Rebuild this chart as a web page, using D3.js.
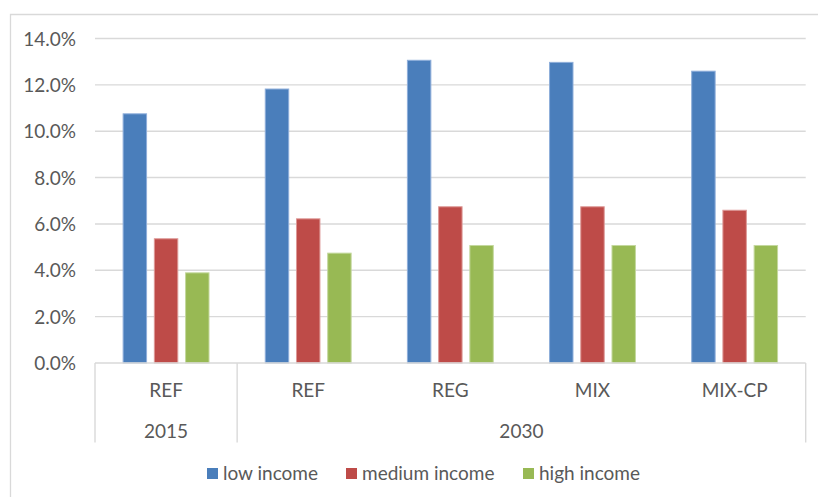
<!DOCTYPE html>
<html>
<head>
<meta charset="utf-8">
<script src="https://cdn.jsdelivr.net/npm/d3@7"></script>
<style>
html,body{margin:0;padding:0;background:#fff;}
svg{display:block;}
text{font-family:Lato,"Open Sans",sans-serif;fill:#595959;}
</style>
</head>
<body>
<svg id="chart" width="818" height="497"></svg>
<script>
const scenarios = ["REF", "REF", "REG", "MIX", "MIX-CP"];
const years = ["2015", "2030"];
const yearSpans = [1, 4];
const series = ["low income", "medium income", "high income"];
const lowIncome = [0.1075, 0.1182, 0.1306, 0.1297, 0.1259];
const mediumIncome = [0.0536, 0.0622, 0.0674, 0.0674, 0.0659];
const highIncome = [0.0389, 0.0474, 0.0507, 0.0507, 0.0507];
const yTicks = [0, 0.02, 0.04, 0.06, 0.08, 0.10, 0.12, 0.14];
const colors = ["#4A7EBB", "#BE4B48", "#98B954"];
const strokes = ["#8EAEDA", "#DD9896", "#C4D89E"];

(function () {
const values = [lowIncome, mediumIncome, highIncome];
const svg = d3.select("#chart");
const pLeft = 95, pRight = 805.7, pTop = 38.5, pBottom = 363;

// outer frame
svg.append("path").attr("d", `M10.5,497 L10.5,14.5 L818,14.5`)
  .attr("fill", "none").attr("stroke", "#d9d9d9").attr("stroke-width", 1.3);

const y = d3.scaleLinear().domain([0, 0.14]).range([pBottom, pTop]);
const idx = d3.range(scenarios.length);
const x0 = d3.scaleBand().domain(idx).range([pLeft, pRight]).padding(0);
const x1 = d3.scaleBand().domain(d3.range(series.length)).range([0, x0.bandwidth()])
  .paddingInner(0.217).paddingOuter(0.885);

// gridlines
svg.append("g").selectAll("line").data(yTicks.filter(t => t > 0)).join("line")
  .attr("x1", pLeft).attr("x2", pRight)
  .attr("y1", d => y(d)).attr("y2", d => y(d))
  .attr("stroke", "#d9d9d9").attr("stroke-width", 1.4);

// y labels
const yAxis = d3.axisLeft(y).tickValues(yTicks).tickFormat(d3.format(".1%")).tickSize(0).tickPadding(0);
const ga = svg.append("g").attr("transform", `translate(76,0)`).call(yAxis);
ga.select(".domain").remove();
ga.selectAll("text").style("font-family", "Lato, sans-serif").style("font-size", "19px").attr("fill", "#595959").attr("dy", "0.35em");

// bars
series.forEach((s, si) => {
  svg.append("g").selectAll("rect").data(values[si]).join("rect")
    .attr("x", (d, i) => x0(i) + x1(si) + 0.5)
    .attr("width", x1.bandwidth() - 1)
    .attr("y", d => y(d))
    .attr("height", d => y(0) - y(d))
    .attr("fill", colors[si])
    .attr("stroke", strokes[si]).attr("stroke-width", 1);
});

// category axis line
svg.append("line").attr("x1", pLeft).attr("x2", pRight).attr("y1", pBottom).attr("y2", pBottom)
  .attr("stroke", "#d9d9d9").attr("stroke-width", 1.4);

// group separators
const sepIdx = [0];
let acc = 0;
yearSpans.forEach(n => { acc += n; sepIdx.push(acc); });
svg.append("g").selectAll("line").data(sepIdx).join("line")
  .attr("x1", d => d < scenarios.length ? x0(d) : pRight)
  .attr("x2", d => d < scenarios.length ? x0(d) : pRight)
  .attr("y1", pBottom).attr("y2", 442.5)
  .attr("stroke", "#d9d9d9").attr("stroke-width", 1.4);

// scenario labels
svg.append("g").selectAll("text").data(scenarios).join("text")
  .attr("x", (d, i) => x0(i) + x0.bandwidth() / 2)
  .attr("y", 390).attr("dy", "0.35em").attr("text-anchor", "middle")
  .style("font-size", "19px").text(d => d);

// year labels
let start = 0;
const yearPos = yearSpans.map(n => { const p = {s: start, n}; start += n; return p; });
svg.append("g").selectAll("text").data(years).join("text")
  .attr("x", (d, i) => (x0(yearPos[i].s) + (yearPos[i].s + yearPos[i].n < scenarios.length ? x0(yearPos[i].s + yearPos[i].n) : pRight)) / 2)
  .attr("y", 431).attr("dy", "0.35em").attr("text-anchor", "middle")
  .style("font-size", "19px").text(d => d);

// legend
const legX = [207, 346, 523];
const lg = svg.append("g").selectAll("g").data(series).join("g")
  .attr("transform", (d, i) => `translate(${legX[i]},468)`);
lg.append("rect").attr("width", 11).attr("height", 11).attr("fill", (d, i) => colors[i]);
lg.append("text").attr("x", 16).attr("y", 5.5).attr("dy", "0.35em")
  .style("font-size", "19px").text(d => d);
})();
</script>
</body>
</html>
